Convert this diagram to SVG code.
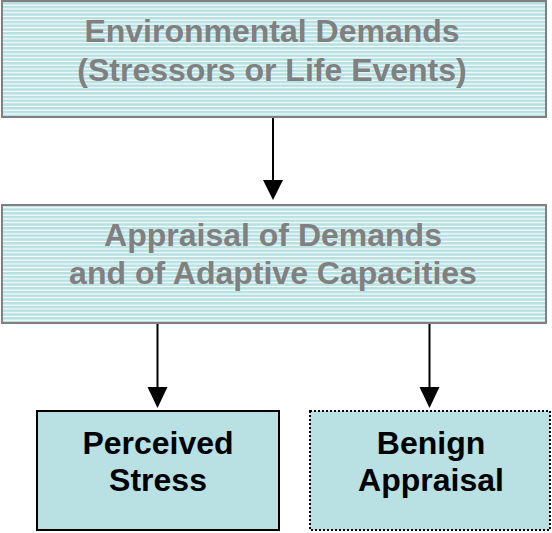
<svg xmlns="http://www.w3.org/2000/svg" width="552" height="533" viewBox="0 0 552 533">
<defs>
<pattern id="stripes" patternUnits="userSpaceOnUse" x="0" y="2" width="10" height="3.75">
<rect x="0" y="0" width="10" height="3.75" fill="#B7E0E3"/>
<rect x="0" y="2.6" width="10" height="1.1" fill="#FFFFFF"/>
</pattern>
</defs>
<style>
.big { fill: url(#stripes); stroke: #808080; stroke-width: 2; }
.bigtxt { font-family: "Liberation Sans", Arial, sans-serif; font-weight: bold; font-size: 32px; fill: #808080; text-anchor: middle; }
.smtxt { font-family: "Liberation Sans", Arial, sans-serif; font-weight: bold; font-size: 32px; fill: #000; text-anchor: middle; }
.conn { stroke: #000; stroke-width: 2; fill: none; }
.head { fill: #000; }
</style>
<g id="connectors">
<line class="conn" x1="273" y1="117" x2="273" y2="181"/>
<path class="head" d="M263,180 L283,180 L273,200 Z"/>
<line class="conn" x1="157.5" y1="324" x2="157.5" y2="388"/>
<path class="head" d="M147.5,387 L167.5,387 L157.5,408 Z"/>
<line class="conn" x1="429.5" y1="324" x2="429.5" y2="388"/>
<path class="head" d="M419.5,387 L439.5,387 L429.5,408 Z"/>
</g>
<g id="environmental-demands">
<rect class="big" x="2" y="1" width="544" height="116"/>
<text class="bigtxt" x="272" y="42">Environmental Demands</text>
<text class="bigtxt" x="272" y="81">(Stressors or Life Events)</text>
</g>
<g id="appraisal">
<rect class="big" x="2" y="205" width="544" height="118"/>
<text class="bigtxt" x="273" y="246">Appraisal of Demands</text>
<text class="bigtxt" x="273" y="284">and of Adaptive Capacities</text>
</g>
<g id="perceived-stress">
<rect x="37" y="411" width="242" height="119" fill="#B9E0E3" stroke="#000" stroke-width="2"/>
<text class="smtxt" x="158" y="454">Perceived</text>
<text class="smtxt" x="158" y="491">Stress</text>
</g>
<g id="benign-appraisal">
<rect x="310" y="411" width="240" height="119" fill="#B9E0E3" stroke="#000" stroke-width="2" stroke-dasharray="2,2"/>
<text class="smtxt" x="431" y="454">Benign</text>
<text class="smtxt" x="431" y="491">Appraisal</text>
</g>
</svg>
